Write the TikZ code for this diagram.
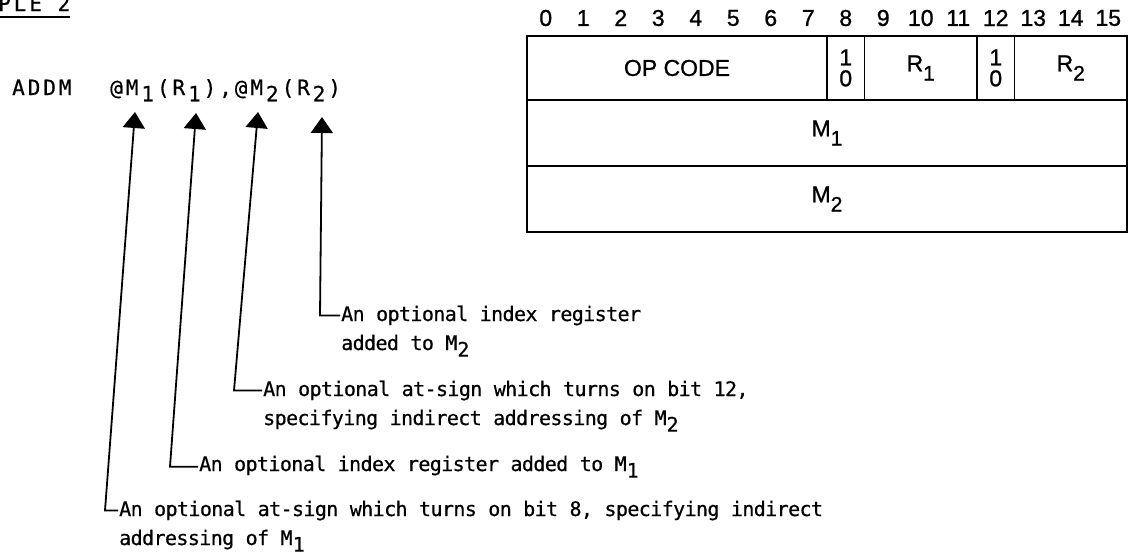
\documentclass[tikz,border=0pt]{standalone}
\usepackage{fontspec}
\setmainfont{Liberation Sans}
\newfontfamily\regfam[FakeBold=1]{Liberation Sans}
\newfontfamily\annfam[LetterSpace=-3,FakeBold=0.6]{DejaVu Sans Mono}
\newfontfamily\codefam[LetterSpace=14,FakeBold=0.6]{DejaVu Sans Mono}
\usetikzlibrary{arrows.meta}
\newcommand{\annfont}{\annfam\fontsize{20}{24}\selectfont}
\newcommand{\codefont}{\codefam\fontsize{21}{24}\selectfont}
\newcommand{\regfont}{\regfam\fontsize{23}{25}\selectfont}
\newcommand{\tsub}[1]{\raisebox{-0.33em}{#1}}
\newcommand{\csub}[1]{\kern0.14em\raisebox{-0.3em}{#1}\kern0.14em}
\newcommand{\rsub}[1]{\raisebox{-0.4em}{\fontsize{21}{21}\selectfont #1}}
\begin{document}
\begin{tikzpicture}[x=1pt,y=-1pt,
  bitnum/.style={font=\regfont, inner sep=0pt},
  field/.style={font=\regfont, inner sep=0pt, align=center},
  divider/.style={line width=1.5pt},
  code/.style={font=\codefont, anchor=base west, inner sep=0pt},
  note/.style={font=\annfont, anchor=base west, inner sep=1pt},
  pointer/.style={line width=1.8pt, -{Triangle[length=16pt,width=22pt]}}]
  \useasboundingbox (0,0) rectangle (1130,558);

  % heading, cut off at the top
  \node[code] (title) at (-2,11) {PLE 2};
  \draw[line width=1.8pt] (0,17) -- ([yshift=-6pt]title.base east);

  % instruction line
  \node[code] (mnem) at (12,95) {ADDM};
  \node[code] (operand) at (110,95) {@M\csub{1}(R\csub{1}),@M\csub{2}(R\csub{2})};
  \coordinate (tipM1) at (135,112);
  \coordinate (tipR1) at (196,113);
  \coordinate (tipM2) at (258,112);
  \coordinate (tipR2) at (322,117);

  % instruction format
  \foreach \b in {0,...,15} {
    \node[bitnum] (bit\b) at ({527+37.5*\b+18.75},18) {\b};
  }
  \foreach \x in {827,864.5,977,1014.5} {
    \draw[divider] (\x,36) -- (\x,100);
  }
  \draw[divider] (527,100) -- (1127,100);
  \draw[divider] (527,166) -- (1127,166);
  \draw[line width=2.6pt] (527,36) rectangle (1127,232);
  \node[field] (opcode) at (677,68) {OP CODE};
  \node[field] (ind1) at (845.75,68) {1\\[-4pt]0};
  \node[field] (reg1) at (920.75,68) {R\rsub{1}};
  \node[field] (ind2) at (995.75,68) {1\\[-4pt]0};
  \node[field] (reg2) at (1070.75,68) {R\rsub{2}};
  \node[field] (mem1) at (827,133) {M\rsub{1}};
  \node[field] (mem2) at (827,199) {M\rsub{2}};

  % explanations
  \node[note] (noteR2) at (340,321) {An optional index register};
  \node[note] (noteR2b) at ([yshift=-29pt]noteR2.base west) {added to M\tsub{2}};
  \node[note] (noteM2) at (262,396) {An optional at-sign which turns on bit 12,};
  \node[note] (noteM2b) at ([yshift=-29pt]noteM2.base west) {specifying indirect addressing of M\tsub{2}};
  \node[note] (noteR1) at (198,471) {An optional index register added to M\tsub{1}};
  \node[note] (noteM1) at (118,516) {An optional at-sign which turns on bit 8, specifying indirect};
  \node[note] (noteM1b) at ([yshift=-29pt]noteM1.base west) {addressing of M\tsub{1}};

  \coordinate (bendR2) at (320,0);
  \coordinate (bendM2) at (234,0);
  \coordinate (bendR1) at (170,0);
  \coordinate (bendM1) at (105,0);
  \draw[pointer] (noteR2.west) -- (noteR2.west -| bendR2) -- (tipR2);
  \draw[pointer] (noteM2.west) -- (noteM2.west -| bendM2) -- (tipM2);
  \draw[pointer] (noteR1.west) -- (noteR1.west -| bendR1) -- (tipR1);
  \draw[pointer] (noteM1.west) -- (noteM1.west -| bendM1) -- (tipM1);
\end{tikzpicture}
\end{document}
